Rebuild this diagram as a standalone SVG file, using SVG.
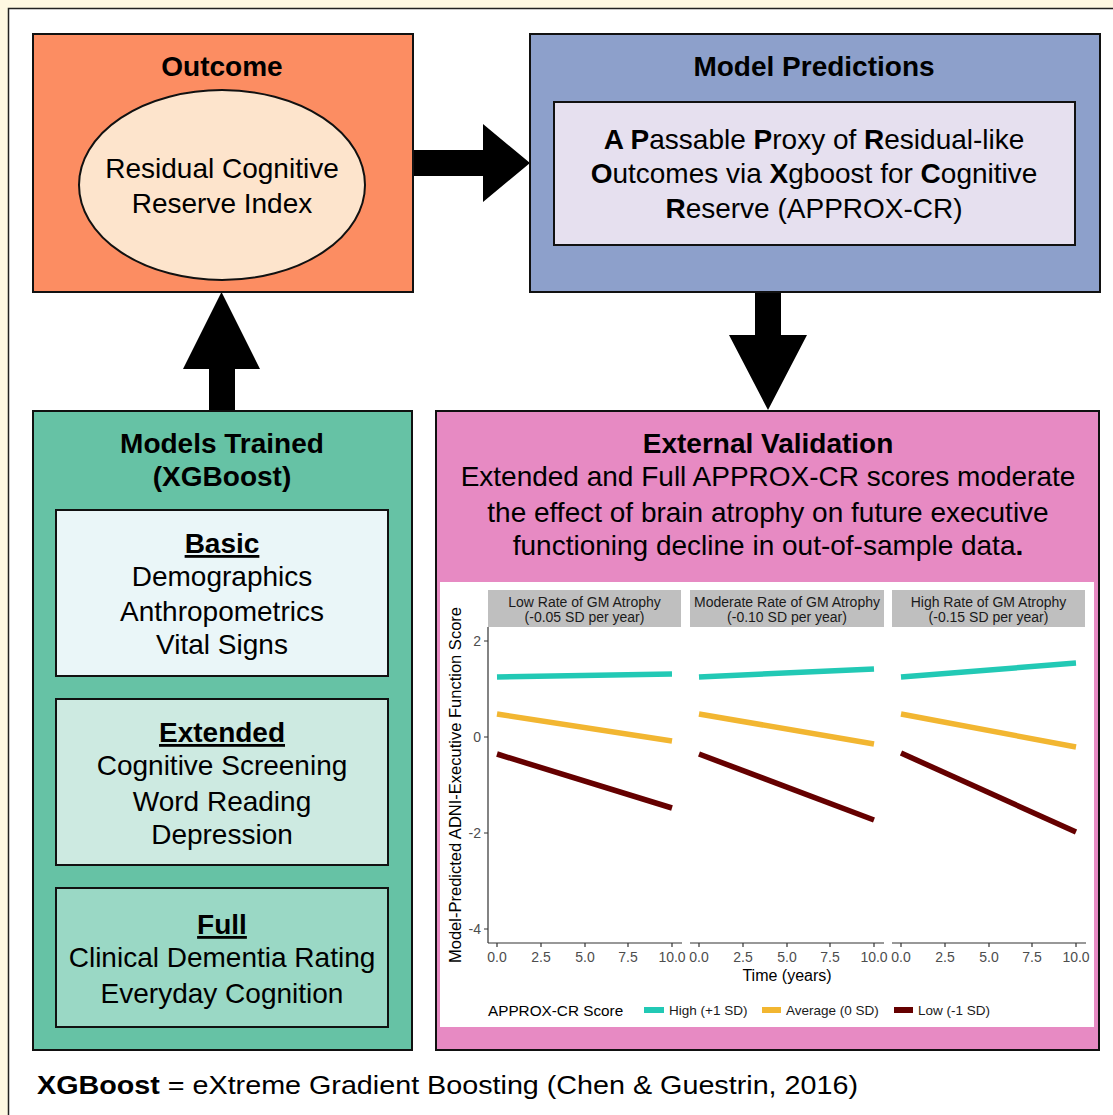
<svg xmlns="http://www.w3.org/2000/svg" width="1113" height="1115" viewBox="0 0 1113 1115">
<style>
text{font-family:"Liberation Sans",Arial,Helvetica,sans-serif;fill:#000}
.h{font-size:28px;font-weight:bold;text-anchor:middle}
.b{font-size:28px;text-anchor:middle}
.bx{stroke:#111;stroke-width:2}
.u{text-decoration:underline}
.strip{fill:#bfbfbf}
.st{font-size:14px;fill:#1a1a1a;text-anchor:middle}
.tk{font-size:14px;fill:#4d4d4d;text-anchor:middle}
.ty{font-size:14px;fill:#4d4d4d;text-anchor:end}
.ax{stroke:#333;stroke-width:1.2;fill:none}
.hi{stroke:#22c9b5;stroke-width:5.5}
.av{stroke:#f2b631;stroke-width:5.5}
.lo{stroke:#650000;stroke-width:5.5}
.lg{font-size:13.5px;fill:#1a1a1a}
.arrow{fill:#000}
</style>
<rect x="0" y="0" width="1113" height="1115" fill="#fef8e2"/>
<rect x="8.5" y="8.5" width="1130" height="1130" fill="#fff" stroke="#222" stroke-width="1.5"/>

<g id="connectors">
<polygon class="arrow" points="413,150 483,150 483,124 530,163 483,202 483,176 413,176"/>
<polygon class="arrow" points="755,292 781,292 781,335 807,335 768,410 729,335 755,335"/>
<polygon class="arrow" points="209,410 209,369 183,369 221.5,292 260,369 235,369 235,410"/>
</g>

<g id="outcome">
<rect class="bx" x="33" y="34" width="380" height="258" fill="#fc8d62"/>
<text class="h" x="222" y="76">Outcome</text>
<ellipse cx="222" cy="185" rx="143" ry="95" fill="#fde4cc" stroke="#111" stroke-width="2"/>
<text class="b" x="222" y="178">Residual Cognitive</text>
<text class="b" x="222" y="213">Reserve Index</text>
</g>

<g id="model-predictions">
<rect class="bx" x="530" y="34" width="570" height="258" fill="#8da0cb"/>
<text class="h" x="814" y="76">Model Predictions</text>
<rect class="bx" x="554" y="102" width="521" height="143" fill="#e6e0ef"/>
<text class="b" x="814" y="149"><tspan font-weight="bold">A P</tspan>assable <tspan font-weight="bold">P</tspan>roxy of <tspan font-weight="bold">R</tspan>esidual-like</text>
<text class="b" x="814" y="183"><tspan font-weight="bold">O</tspan>utcomes via <tspan font-weight="bold">X</tspan>gboost for <tspan font-weight="bold">C</tspan>ognitive</text>
<text class="b" x="814" y="218"><tspan font-weight="bold">R</tspan>eserve (APPROX-CR)</text>
</g>

<g id="models-trained">
<rect class="bx" x="33" y="411" width="379" height="639" fill="#66c2a5"/>
<text class="h" x="222" y="453">Models Trained</text>
<text class="h" x="222" y="486">(XGBoost)</text>
<g id="basic">
<rect class="bx" x="56" y="510" width="332" height="166" fill="#eaf6f8"/>
<text class="h u" x="222" y="553">Basic</text>
<text class="b" x="222" y="586">Demographics</text>
<text class="b" x="222" y="621">Anthropometrics</text>
<text class="b" x="222" y="654">Vital Signs</text>
</g>
<g id="extended">
<rect class="bx" x="56" y="699" width="332" height="166" fill="#cdeae1"/>
<text class="h u" x="222" y="742">Extended</text>
<text class="b" x="222" y="775">Cognitive Screening</text>
<text class="b" x="222" y="811">Word Reading</text>
<text class="b" x="222" y="844">Depression</text>
</g>
<g id="full">
<rect class="bx" x="56" y="888" width="332" height="139" fill="#9ad8c5"/>
<text class="h u" x="222" y="934">Full</text>
<text class="b" x="222" y="967">Clinical Dementia Rating</text>
<text class="b" x="222" y="1003">Everyday Cognition</text>
</g>
</g>

<g id="external-validation">
<rect class="bx" x="436" y="411" width="663" height="639" fill="#e78ac3"/>
<text class="h" x="768" y="453">External Validation</text>
<text class="b" x="768" y="486">Extended and Full APPROX-CR scores moderate</text>
<text class="b" x="768" y="522">the effect of brain atrophy on future executive</text>
<text class="b" x="768" y="555">functioning decline in out-of-sample data<tspan font-weight="bold">.</tspan></text>

<g id="chart">
<rect x="440" y="582" width="654" height="445" fill="#fff"/>
<rect class="strip" x="488" y="590" width="193" height="37"/>
<rect class="strip" x="690" y="590" width="194" height="37"/>
<rect class="strip" x="892" y="590" width="193" height="37"/>
<text class="st" x="584.5" y="607">Low Rate of GM Atrophy</text>
<text class="st" x="584.5" y="622">(-0.05 SD per year)</text>
<text class="st" x="787" y="607">Moderate Rate of GM Atrophy</text>
<text class="st" x="787" y="622">(-0.10 SD per year)</text>
<text class="st" x="988.5" y="607">High Rate of GM Atrophy</text>
<text class="st" x="988.5" y="622">(-0.15 SD per year)</text>

<path class="ax" d="M488,627 V943 M484,641 H488 M484,737 H488 M484,833 H488 M484,929 H488"/>
<text class="ty" x="481" y="646">2</text>
<text class="ty" x="481" y="742">0</text>
<text class="ty" x="481" y="838">-2</text>
<text class="ty" x="481" y="934">-4</text>

<path class="ax" d="M488,943 H682 M690,943 H884 M892,943 H1086
M497,943 v4 M541,943 v4 M585,943 v4 M628,943 v4 M672,943 v4
M699,943 v4 M743,943 v4 M787,943 v4 M830,943 v4 M874,943 v4
M901,943 v4 M945,943 v4 M989,943 v4 M1032,943 v4 M1076,943 v4"/>
<g>
<text class="tk" x="497" y="962">0.0</text><text class="tk" x="541" y="962">2.5</text><text class="tk" x="585" y="962">5.0</text><text class="tk" x="628" y="962">7.5</text><text class="tk" x="672" y="962">10.0</text>
<text class="tk" x="699" y="962">0.0</text><text class="tk" x="743" y="962">2.5</text><text class="tk" x="787" y="962">5.0</text><text class="tk" x="830" y="962">7.5</text><text class="tk" x="874" y="962">10.0</text>
<text class="tk" x="901" y="962">0.0</text><text class="tk" x="945" y="962">2.5</text><text class="tk" x="989" y="962">5.0</text><text class="tk" x="1032" y="962">7.5</text><text class="tk" x="1076" y="962">10.0</text>
</g>
<text x="787" y="981" font-size="16" text-anchor="middle" fill="#000">Time (years)</text>
<text transform="translate(461,785) rotate(-90)" font-size="16" text-anchor="middle" textLength="356" lengthAdjust="spacingAndGlyphs">Model-Predicted ADNI-Executive Function Score</text>

<line class="hi" x1="497" y1="677" x2="672" y2="674"/>
<line class="av" x1="497" y1="714" x2="672" y2="741"/>
<line class="lo" x1="497" y1="754" x2="672" y2="808"/>
<line class="hi" x1="699" y1="677" x2="874" y2="669"/>
<line class="av" x1="699" y1="714" x2="874" y2="744"/>
<line class="lo" x1="699" y1="754" x2="874" y2="820"/>
<line class="hi" x1="901" y1="677" x2="1076" y2="663"/>
<line class="av" x1="901" y1="714" x2="1076" y2="747"/>
<line class="lo" x1="901" y1="753" x2="1076" y2="832"/>

<text x="488" y="1016" font-size="15.3" fill="#1a1a1a">APPROX-CR Score</text>
<rect x="644" y="1007" width="20" height="6" fill="#22c9b5"/>
<text class="lg" x="669" y="1015">High (+1 SD)</text>
<rect x="762" y="1007" width="19" height="6" fill="#f2b631"/>
<text class="lg" x="786" y="1015">Average (0 SD)</text>
<rect x="894" y="1007" width="19" height="6" fill="#650000"/>
<text class="lg" x="918" y="1015">Low (-1 SD)</text>
</g>
</g>

<text x="37" y="1094" font-size="26" textLength="821" lengthAdjust="spacingAndGlyphs"><tspan font-weight="bold">XGBoost</tspan> = eXtreme Gradient Boosting (Chen &amp; Guestrin, 2016)</text>
</svg>
